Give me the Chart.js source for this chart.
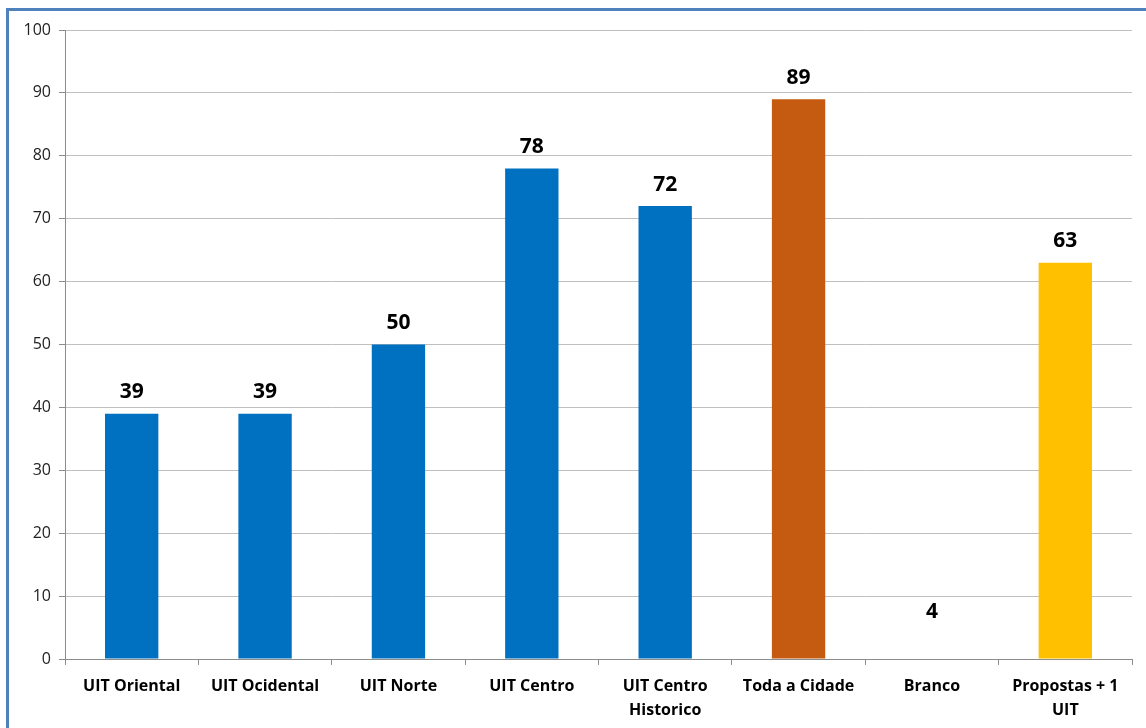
<!DOCTYPE html>
<html>
<head>
<meta charset="utf-8">
<script src="https://cdn.jsdelivr.net/npm/chart.js@4.4.1/dist/chart.umd.min.js"></script>
<style>
    html, body { margin: 0; padding: 0; background: #fff; overflow: hidden; }
    #wrap { position: absolute; left: 0; top: 0; width: 1146px; height: 728px; }
    #frame {
        position: absolute; left: 6px; top: 8px; width: 1200px; height: 800px;
        border-top: 3px solid #4f81bd; border-left: 3px solid #4f81bd;
        pointer-events: none;
    }
</style>
</head>
<body>
<div id="wrap">
    <canvas id="chart" width="1146" height="728"></canvas>
    <div id="frame"></div>
</div>
<script>
// Chart data
const categories = ['UIT Oriental', 'UIT Ocidental', 'UIT Norte', 'UIT Centro', ['UIT Centro', 'Historico'], 'Toda a Cidade', 'Branco', ['Propostas + 1', 'UIT']];
const votes = [39, 39, 50, 78, 72, 89, 4, 63];
const barColors = ['#0070c0', '#0070c0', '#0070c0', '#0070c0', '#0070c0', '#c55a11', '#ffffff', '#ffc000'];
const yTicks = [0, 10, 20, 30, 40, 50, 60, 70, 80, 90, 100];

const fontFamily = '"Open Sans", "Noto Sans", sans-serif';

// Value labels above each bar
const valueLabels = {
    id: 'valueLabels',
    afterDatasetsDraw: function(chart) {
        const ctx = chart.ctx;
        const meta = chart.getDatasetMeta(0);
        ctx.save();
        ctx.font = 'bold 21px ' + fontFamily;
        ctx.fillStyle = '#000';
        ctx.textAlign = 'center';
        ctx.textBaseline = 'bottom';
        meta.data.forEach((bar, i) => {
            ctx.fillText(String(votes[i]), bar.x, bar.y - 11);
        });
        ctx.restore();
    }
};

const ctx = document.getElementById('chart').getContext('2d');
const chart = new Chart(ctx, {
    type: 'bar',
    data: {
        labels: categories,
        datasets: [{
            data: votes,
            backgroundColor: barColors,
            borderWidth: 0,
            barPercentage: 0.4,
            categoryPercentage: 1
        }]
    },
    options: {
        responsive: false,
        animation: false,
        layout: { padding: { top: 30, right: 14, left: 0, bottom: 0 } },
        plugins: {
            legend: { display: false },
            tooltip: { enabled: false }
        },
        scales: {
            x: {
                offset: true,
                grid: {
                    offset: true,
                    drawOnChartArea: false,
                    drawTicks: true,
                    tickLength: 6,
                    color: '#8c8c8c'
                },
                border: { color: '#8c8c8c', width: 1 },
                ticks: {
                    color: '#000',
                    padding: 9,
                    maxRotation: 0,
                    autoSkip: false,
                    font: { family: fontFamily, size: 16, weight: 'bold', lineHeight: 1.5 }
                },
                afterFit: function(scale) { scale.height = 69; }
            },
            y: {
                min: 0,
                max: 100,
                afterBuildTicks: function(scale) {
                    scale.ticks = yTicks.map(v => ({ value: v }));
                },
                grid: {
                    color: '#bfbfbf',
                    tickLength: 6,
                    tickColor: '#8c8c8c'
                },
                border: { color: '#8c8c8c', width: 1 },
                ticks: {
                    color: '#222',
                    padding: 8,
                    font: { family: fontFamily, size: 16 }
                },
                afterFit: function(scale) { scale.width = 65; }
            }
        }
    },
    plugins: [valueLabels]
});
</script>
</body>
</html>
